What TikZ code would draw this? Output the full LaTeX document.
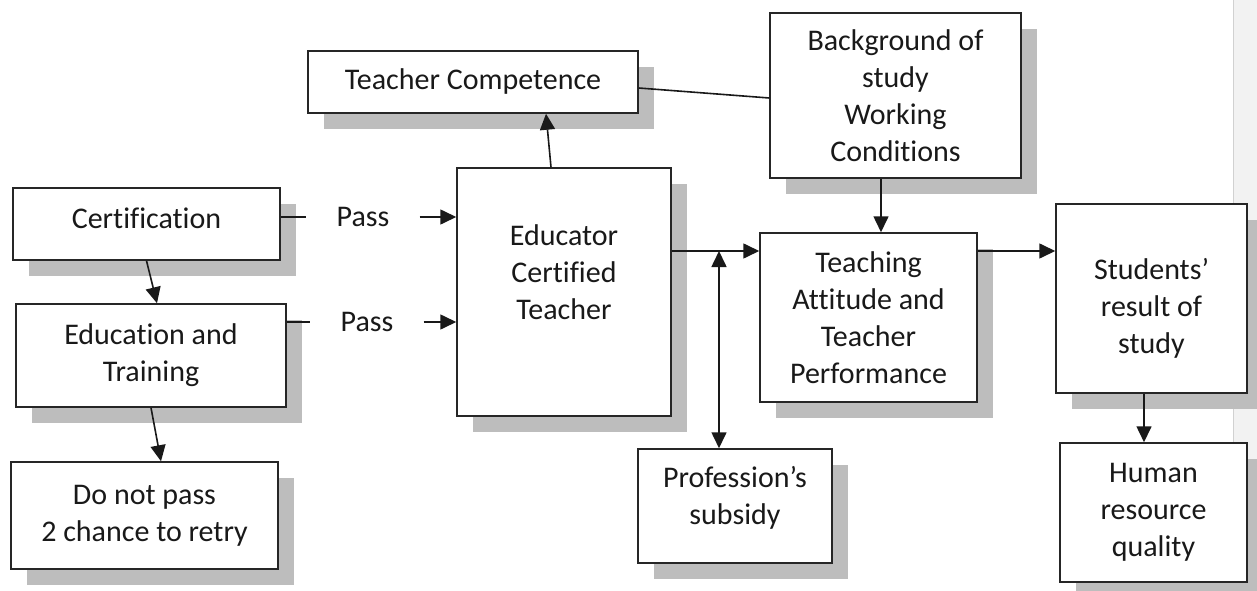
\documentclass[tikz,border=0pt]{standalone}
\usepackage{fontspec}
\setmainfont{Carlito}[Ligatures=NoCommon]
\usetikzlibrary{shadows,arrows.meta}
\definecolor{shad}{RGB}{189,189,189}
\definecolor{stripc}{RGB}{242,242,242}
\begin{document}
\begin{tikzpicture}[x=1pt,y=-1pt,
  every node/.style={font=\fontsize{30}{37}\selectfont, text=black!90},
  box/.style={draw=black!85, line width=1.5pt, fill=white, rectangle, inner sep=0pt, align=center,
    drop shadow={shadow xshift=16pt, shadow yshift=-16pt, fill=shad, opacity=1}},
  conn/.style={line width=1.6pt, draw=black!90},
  arr/.style={conn, -{Triangle[length=16pt,width=15pt]}},
  darr/.style={conn, {Triangle[length=16pt,width=15pt]}-{Triangle[length=16pt,width=15pt]}},
  passlbl/.style={inner xsep=30pt, inner ysep=2pt}
  ]
\useasboundingbox (0,0) rectangle (1257,591);
\fill[stripc] (1233,0) rectangle (1257,591);
\draw[black!18, line width=0.8pt] (1233,0) -- (1233,591);

% boxes
\node[box, minimum width=267pt, minimum height=72pt,
  label={[yshift=6pt]center:Certification}] (cert) at (146.5,224) {};
\node[box, minimum width=270pt, minimum height=103pt] (edu) at (151,355.5) {Education and\\Training};
\node[box, minimum width=267pt, minimum height=107pt] (dnp) at (144.5,515.5) {Do not pass\\2 chance to retry};
\node[box, minimum width=330pt, minimum height=62pt] (tc) at (473,82) {Teacher Competence};
\node[box, minimum width=251pt, minimum height=165pt] (bg) at (895.5,95.5) {Background of\\study\\Working\\Conditions};
\node[box, minimum width=214pt, minimum height=248pt,
  label={[align=center,yshift=20pt]center:{Educator\\Certified\\Teacher}}] (educ) at (564,292) {};
\node[box, minimum width=217pt, minimum height=169pt] (teach) at (868.5,317.5) {Teaching\\Attitude and\\Teacher\\Performance};
\node[box, minimum width=191pt, minimum height=189pt,
  label={[align=center,yshift=-10pt]center:{Students’\\result of\\study}}] (stud) at (1151.5,298.5) {};
\node[box, minimum width=187pt, minimum height=139pt] (hum) at (1153.5,512.5) {Human\\resource\\quality};
\node[box, minimum width=194pt, minimum height=114pt,
  label={[align=center,yshift=8pt]center:{Profession’s\\subsidy}}] (prof) at (735,506) {};

% pass labels
\node[passlbl] (p1) at (363,217) {Pass};
\node[passlbl] (p2) at (367,322) {Pass};

% connectors
\draw[conn] (cert.east |- p1) -- (p1.west);
\draw[arr] (p1.east) -- (educ.west |- p1);
\draw[conn] (edu.east |- p2) -- (p2.west);
\draw[arr] (p2.east) -- (educ.west |- p2);
\draw[arr] (cert.south) -- ([xshift=6pt]edu.north);
\draw[arr] (edu.south) -- ([xshift=16.5pt]dnp.north);
\draw[arr] ([xshift=-13pt]educ.north) -- ([xshift=73pt]tc.south);
\draw[conn] ([yshift=-6pt]tc.east) -- ([yshift=-2.5pt]bg.west);
\draw[arr] ([xshift=-14.5pt]bg.south) -- ([xshift=12.5pt]teach.north);
\coordinate (j) at ([yshift=41pt]educ.east);
\draw[arr] (j) -- (teach.west |- j);
\coordinate (jd) at ([xshift=-16pt]prof.north |- j);
\draw[darr] (jd) -- ([xshift=-16pt]prof.north);
\draw[arr] (teach.east |- j) -- (stud.west |- j);
\draw[arr] ([xshift=-7.5pt]stud.south) -- ([xshift=-9.5pt]hum.north);
\end{tikzpicture}
\end{document}
